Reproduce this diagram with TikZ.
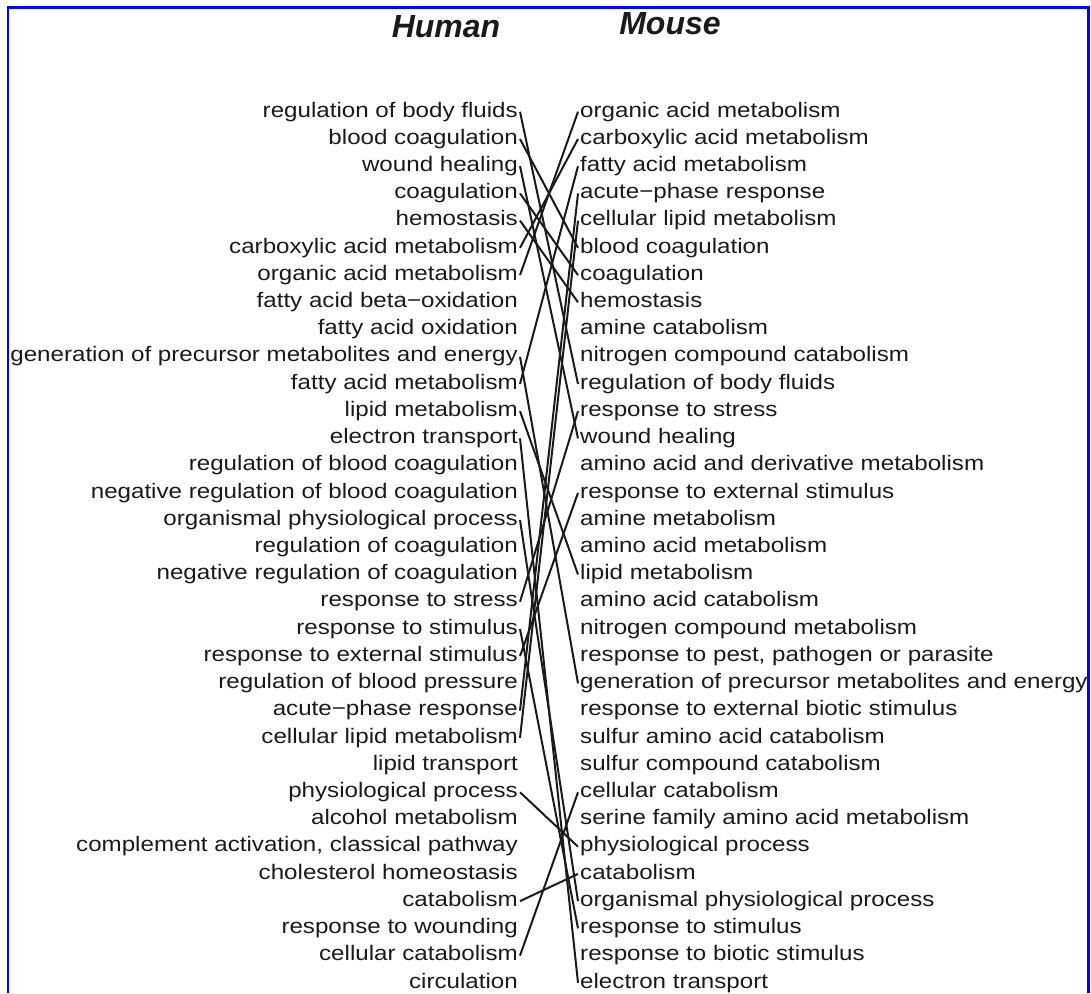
\documentclass[tikz,border=0pt]{standalone}
\usepackage{fontspec}
\newfontfamily\labfont{Liberation Sans}[FakeStretch=1.15]
\newfontfamily\ttlfont{Liberation Sans}
\definecolor{txt}{HTML}{1A1A1A}
\definecolor{ln}{HTML}{1A1A1A}
\begin{document}
\begin{tikzpicture}[x=1pt,y=-1pt,
  lab/.style={font=\labfont\fontsize{21}{25}\selectfont, text=txt, inner sep=0pt, inner xsep=2pt, text height=15pt, text depth=4.5pt},
  ttl/.style={font=\ttlfont\bfseries\itshape\fontsize{32}{38}\selectfont, text=txt, inner sep=0pt},
  conn/.style={draw=ln, line width=2pt}]
\useasboundingbox (0,0) rectangle (1091,993);
\draw[blue, line width=2.6pt] (7.8,993) -- (7.8,7.5) -- (1088.5,7.5) -- (1088.5,993);
\node[ttl, anchor=base] (human) at (446,37) {Human};
\node[ttl, anchor=base] (mouse) at (670,34) {Mouse};
\foreach \t [count=\i] in {regulation of body fluids, blood coagulation, wound healing, coagulation, hemostasis, carboxylic acid metabolism, organic acid metabolism, fatty acid beta−oxidation, fatty acid oxidation, generation of precursor metabolites and energy, fatty acid metabolism, lipid metabolism, electron transport, regulation of blood coagulation, negative regulation of blood coagulation, organismal physiological process, regulation of coagulation, negative regulation of coagulation, response to stress, response to stimulus, response to external stimulus, regulation of blood pressure, acute−phase response, cellular lipid metabolism, lipid transport, physiological process, alcohol metabolism, {complement activation, classical pathway}, cholesterol homeostasis, catabolism, response to wounding, cellular catabolism, circulation}
  \node[lab, anchor=base east] (L\i) at (520,{117+27.22*(\i-1)}) {\t};
\foreach \t [count=\i] in {organic acid metabolism, carboxylic acid metabolism, fatty acid metabolism, acute−phase response, cellular lipid metabolism, blood coagulation, coagulation, hemostasis, amine catabolism, nitrogen compound catabolism, regulation of body fluids, response to stress, wound healing, amino acid and derivative metabolism, response to external stimulus, amine metabolism, amino acid metabolism, lipid metabolism, amino acid catabolism, nitrogen compound metabolism, {response to pest, pathogen or parasite}, generation of precursor metabolites and energy, response to external biotic stimulus, sulfur amino acid catabolism, sulfur compound catabolism, cellular catabolism, serine family amino acid metabolism, physiological process, catabolism, organismal physiological process, response to stimulus, response to biotic stimulus, electron transport}
  \node[lab, anchor=base west] (R\i) at (578,{117+27.22*(\i-1)}) {\t};
\foreach \a/\b in {1/11, 2/6, 3/13, 4/7, 5/8, 6/2, 7/1, 10/22, 11/3, 12/18, 13/33, 16/30, 19/12, 20/31, 21/15, 23/4, 24/5, 26/28, 30/29, 32/26}
  \draw[conn] (L\a.east) -- (R\b.west);
\end{tikzpicture}
\end{document}
